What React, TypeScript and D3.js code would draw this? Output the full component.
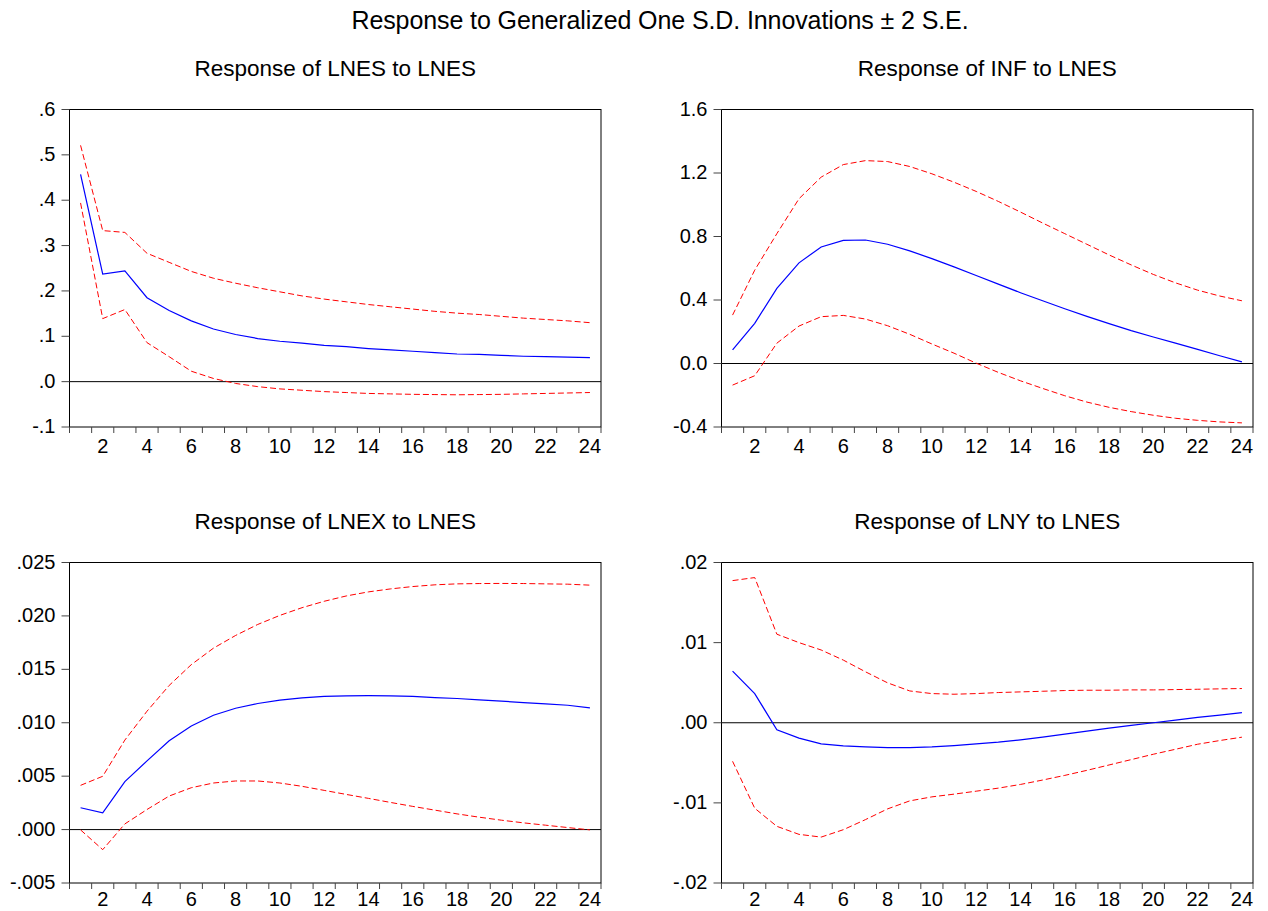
import React from 'react'
import * as d3 from 'd3'

// periods after the shock
const periods = [1, 2, 3, 4, 5, 6, 7, 8, 9, 10, 11, 12, 13, 14, 15, 16, 17, 18, 19, 20, 21, 22, 23, 24]
const xTickLabels = [2, 4, 6, 8, 10, 12, 14, 16, 18, 20, 22, 24]

// Response of LNES to LNES
const lnesResp = [0.457, 0.237, 0.244, 0.185, 0.157, 0.134, 0.116, 0.104, 0.095, 0.089, 0.085, 0.08, 0.077, 0.073, 0.07, 0.067, 0.064, 0.061, 0.06, 0.058, 0.056, 0.055, 0.054, 0.053]
const lnesUpper = [0.521, 0.333, 0.329, 0.283, 0.263, 0.243, 0.228, 0.217, 0.207, 0.198, 0.189, 0.182, 0.176, 0.17, 0.165, 0.16, 0.155, 0.151, 0.148, 0.144, 0.14, 0.137, 0.134, 0.13]
const lnesLower = [0.394, 0.139, 0.159, 0.086, 0.055, 0.023, 0.007, -0.004, -0.011, -0.016, -0.019, -0.022, -0.024, -0.026, -0.027, -0.028, -0.0285, -0.029, -0.0285, -0.028, -0.027, -0.026, -0.025, -0.024]
const lnesTicks = [0.6, 0.5, 0.4, 0.3, 0.2, 0.1, 0, -0.1]
const lnesTickLabels = ['.6', '.5', '.4', '.3', '.2', '.1', '.0', '-.1']

// Response of INF to LNES
const infResp = [0.086, 0.253, 0.473, 0.634, 0.734, 0.776, 0.778, 0.751, 0.709, 0.661, 0.609, 0.554, 0.5, 0.446, 0.395, 0.345, 0.297, 0.251, 0.207, 0.167, 0.128, 0.089, 0.049, 0.01]
const infUpper = [0.305, 0.588, 0.818, 1.038, 1.174, 1.253, 1.278, 1.272, 1.241, 1.195, 1.142, 1.084, 1.021, 0.954, 0.885, 0.818, 0.751, 0.684, 0.621, 0.561, 0.508, 0.462, 0.425, 0.395]
const infLower = [-0.136, -0.077, 0.128, 0.236, 0.295, 0.303, 0.28, 0.238, 0.184, 0.123, 0.065, 0.002, -0.056, -0.109, -0.157, -0.203, -0.243, -0.276, -0.303, -0.326, -0.345, -0.358, -0.368, -0.374]
const infTicks = [1.6, 1.2, 0.8, 0.4, 0, -0.4]
const infTickLabels = ['1.6', '1.2', '0.8', '0.4', '0.0', '-0.4']

// Response of LNEX to LNES
const lnexResp = [0.00204, 0.00157, 0.00449, 0.00643, 0.00832, 0.0097, 0.0107, 0.01136, 0.0118, 0.01211, 0.01233, 0.01246, 0.01252, 0.01253, 0.01252, 0.01246, 0.01236, 0.01227, 0.01214, 0.01202, 0.01189, 0.01177, 0.01164, 0.0114]
const lnexUpper = [0.00414, 0.00499, 0.00838, 0.01108, 0.01349, 0.01544, 0.01698, 0.01817, 0.0192, 0.02005, 0.02077, 0.02137, 0.02187, 0.02225, 0.02253, 0.02275, 0.02291, 0.023, 0.02303, 0.02304, 0.02303, 0.023, 0.02297, 0.02288]
const lnexLower = [-0.00003, -0.00188, 0.00053, 0.00188, 0.00314, 0.00392, 0.00436, 0.00455, 0.00455, 0.00436, 0.00405, 0.00367, 0.00329, 0.00292, 0.00254, 0.00217, 0.00182, 0.00147, 0.00116, 0.00088, 0.00063, 0.00041, 0.00019, -0.00003]
const lnexTicks = [0.025, 0.02, 0.015, 0.01, 0.005, 0, -0.005]
const lnexTickLabels = ['.025', '.020', '.015', '.010', '.005', '.000', '-.005']

// Response of LNY to LNES
const lnyResp = [0.00644, 0.00364, -0.00088, -0.00192, -0.00264, -0.00289, -0.00301, -0.0031, -0.0031, -0.00301, -0.00285, -0.00264, -0.00243, -0.00213, -0.0018, -0.00142, -0.00105, -0.00067, -0.00033, 0.0, 0.00033, 0.00067, 0.00096, 0.00126]
const lnyUpper = [0.01774, 0.01812, 0.01105, 0.01, 0.00908, 0.00782, 0.00636, 0.00498, 0.00397, 0.00364, 0.00356, 0.00364, 0.00377, 0.00385, 0.00393, 0.00402, 0.00406, 0.00406, 0.0041, 0.0041, 0.00414, 0.00418, 0.00423, 0.00427]
const lnyLower = [-0.00481, -0.01067, -0.01293, -0.01393, -0.01427, -0.01335, -0.01209, -0.01075, -0.00975, -0.00925, -0.00891, -0.00854, -0.00816, -0.0077, -0.00715, -0.00657, -0.00594, -0.00527, -0.0046, -0.00393, -0.00331, -0.00268, -0.00222, -0.0018]
const lnyTicks = [0.02, 0.01, 0, -0.01, -0.02]
const lnyTickLabels = ['.02', '.01', '.00', '-.01', '-.02']

const FONT = '"Liberation Sans", Arial, sans-serif'

type PanelProps = {
  title: string
  left: number
  top: number
  width: number
  height: number
  labelGap: number
  ticks: number[]
  tickLabels: string[]
  resp: number[]
  upper: number[]
  lower: number[]
}

function Panel({ title, left, top, width, height, labelGap, ticks, tickLabels, resp, upper, lower }: PanelProps) {
  const x = d3.scaleLinear().domain([0.5, 24.5]).range([left, left + width])
  const y = d3
    .scaleLinear()
    .domain([d3.min(ticks) as number, d3.max(ticks) as number])
    .range([top + height, top])
  const line = d3
    .line<number>()
    .x((d, i) => x(periods[i]))
    .y((d) => y(d))

  const bottom = top + height
  const boundaries = [0.5, ...periods.map((p) => p + 0.5)]

  return (
    <g fontFamily={FONT}>
      <text x={left + width / 2} y={top - 34} textAnchor="middle" fontSize={22.5}>
        {title}
      </text>
      {/* zero line */}
      <line x1={left} x2={left + width} y1={y(0)} y2={y(0)} stroke="#000" strokeWidth={1} />
      <path d={line(upper) || ''} fill="none" stroke="#ff0000" strokeWidth={1} strokeDasharray="6,3" />
      <path d={line(lower) || ''} fill="none" stroke="#ff0000" strokeWidth={1} strokeDasharray="6,3" />
      <path d={line(resp) || ''} fill="none" stroke="#0000ff" strokeWidth={1.2} />
      <rect x={left} y={top} width={width} height={height} fill="none" stroke="#000" strokeWidth={1} />
      {/* y ticks */}
      {ticks.map((t, i) => (
        <g key={'y' + i}>
          <line x1={left - 8} x2={left} y1={y(t)} y2={y(t)} stroke="#444" strokeWidth={1} />
          <text x={left - 14} y={y(t) - 1} textAnchor="end" dominantBaseline="central" fontSize={20}>
            {tickLabels[i]}
          </text>
        </g>
      ))}
      {/* x ticks */}
      {boundaries.map((b, i) => (
        <line key={'x' + i} x1={x(b)} x2={x(b)} y1={bottom} y2={bottom + 6} stroke="#444" strokeWidth={1} />
      ))}
      {xTickLabels.map((p) => (
        <text key={'xl' + p} x={x(p)} y={bottom + labelGap} textAnchor="middle" fontSize={20}>
          {p}
        </text>
      ))}
    </g>
  )
}

export default function App() {
  return (
    <svg
      width={1268}
      height={911}
      style={{ position: 'absolute', left: 0, top: 0, background: '#fff' }}
    >
      <rect x={0} y={0} width={1268} height={911} fill="#fff" />
      <text x={660} y={29} textAnchor="middle" fontSize={25} letterSpacing={-0.1} fontFamily={FONT}>
        Response to Generalized One S.D. Innovations ± 2 S.E.
      </text>
      <Panel title="Response of LNES to LNES" left={69.5} top={109.5} width={531.5} height={317.5} labelGap={26}
        ticks={lnesTicks} tickLabels={lnesTickLabels} resp={lnesResp} upper={lnesUpper} lower={lnesLower} />
      <Panel title="Response of INF to LNES" left={721.5} top={109.5} width={531.5} height={317.5} labelGap={26}
        ticks={infTicks} tickLabels={infTickLabels} resp={infResp} upper={infUpper} lower={infLower} />
      <Panel title="Response of LNEX to LNES" left={69.5} top={562.5} width={531.5} height={320.5} labelGap={22.5}
        ticks={lnexTicks} tickLabels={lnexTickLabels} resp={lnexResp} upper={lnexUpper} lower={lnexLower} />
      <Panel title="Response of LNY to LNES" left={721.5} top={562.5} width={531.5} height={320.5} labelGap={22.5}
        ticks={lnyTicks} tickLabels={lnyTickLabels} resp={lnyResp} upper={lnyUpper} lower={lnyLower} />
    </svg>
  )
}
